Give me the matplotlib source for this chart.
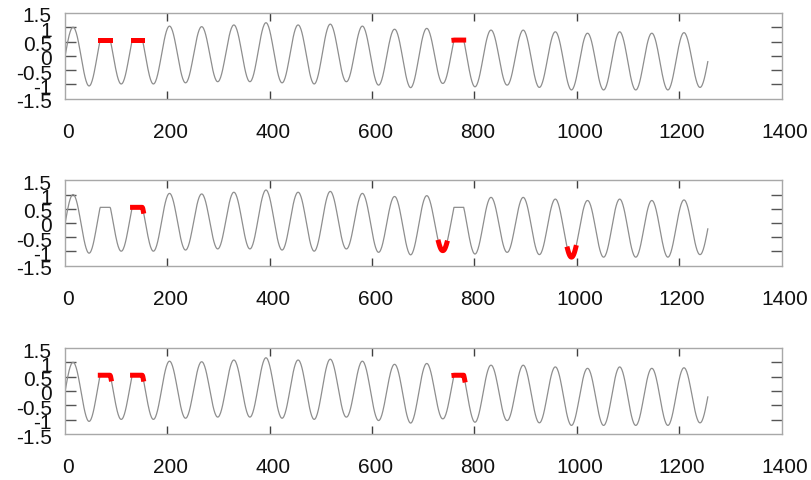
import numpy as np
import matplotlib
matplotlib.use("Agg")
import matplotlib.pyplot as plt
from matplotlib.transforms import ScaledTranslation

# ---------------- data ----------------
x_end = 1256                 # last sample of the signal
wave_period = 62.83          # distance between successive peaks
first_peak_x = 15.7          # position of the first peak

peak_values = [1.00, 1.02, 1.02, 1.04, 1.02, 1.08, 1.16, 1.08, 1.11, 1.04,
               0.93, 0.96, 0.98, 0.90, 0.90, 0.84, 0.79, 0.84, 0.79, 0.81]
trough_values = [-1.06, -0.99, -0.99, -0.95, -0.91, -0.91, -0.95, -0.99, -0.91, -1.03,
                 -1.12, -0.97, -1.09, -1.03, -1.11, -1.20, -1.20, -1.20, -1.20, -1.11]

clip_level = 0.55            # flattened peaks sit at this level
clipped_peaks = [1, 2, 12]   # indices of the flattened peaks

# red highlighted x-ranges, one list per panel (top, middle, bottom)
highlight_ranges = [
    [(69, 88), (132, 151), (760, 779)],
    [(132, 153), (730, 746), (982, 998)],
    [(69, 90), (132, 153), (760, 781)],
]

x_ticks = [0, 200, 400, 600, 800, 1000, 1200, 1400]
y_ticks = [-1.5, -1, -0.5, 0, 0.5, 1, 1.5]
y_tick_labels = ["-1.5", "-1", "-0.5", "0", "0.5", "1", "1.5"]

# ---------------- build the signal ----------------
n_peaks = len(peak_values)
peak_x = first_peak_x + wave_period * np.arange(n_peaks)
trough_x = peak_x + wave_period / 2
x = np.arange(0, x_end + 1, 1.0)
upper = np.interp(x, peak_x, peak_values)
lower = np.interp(x, trough_x, trough_values)
phase = np.cos(2 * np.pi * (x - first_peak_x) / wave_period)
y = (upper + lower) / 2 + (upper - lower) / 2 * phase
for k in clipped_peaks:
    near = np.abs(x - peak_x[k]) < wave_period / 2
    y[near] = np.minimum(y[near], clip_level)

# ---------------- figure ----------------
W, H = 811, 480
fig = plt.figure(figsize=(W / 100, H / 100), dpi=100)
plt.rcParams["font.family"] = ["Liberation Sans", "DejaVu Sans"]

left = 65 / W
width = (781.5 - 65) / W
panels_px = [(13, 98.5), (180.3, 265.7), (348, 434)]

spine_col = "#a8a8a8"
for i, (top_px, bot_px) in enumerate(panels_px):
    ax = fig.add_axes([left, 1 - bot_px / H, width, (bot_px - top_px) / H])
    ax.plot(x, y, color="#8e8e8e", lw=0.9, zorder=2)
    for (a, b) in highlight_ranges[i]:
        m = (x >= a) & (x <= b)
        ax.plot(x[m], y[m], color="#ff0000", lw=3.6, solid_capstyle="projecting",
                solid_joinstyle="round", zorder=3)
    ax.set_xlim(0, 1400)
    ax.set_ylim(-1.5, 1.5)
    ax.set_xticks(x_ticks)
    ax.set_xticklabels([str(t) for t in x_ticks])
    ax.set_yticks(y_ticks)
    ax.set_yticklabels(y_tick_labels)
    for s in ax.spines.values():
        s.set_color(spine_col)
        s.set_linewidth(1.0)
    ax.tick_params(axis="x", direction="in", top=True, bottom=True, length=5.5,
                   width=1.0, color="#404040", labelsize=15, pad=17.5, labelcolor="#111111")
    ax.tick_params(axis="y", direction="in", left=True, right=True, length=8,
                   width=1.0, color="#555555", labelsize=15, pad=9.5, labelcolor="#111111")
    for t in ax.yaxis.get_major_ticks():
        if abs(t.get_loc()) == 1.5:
            t.tick1line.set_visible(False)
            t.tick2line.set_visible(False)
    for t in ax.xaxis.get_major_ticks():
        if t.get_loc() in (0, 1400):
            t.tick1line.set_visible(False)
            t.tick2line.set_visible(False)
    dy = ScaledTranslation(0, -2 / 100, fig.dpi_scale_trans)
    for lab in ax.get_yticklabels():
        lab.set_transform(lab.get_transform() + dy)
    dx = ScaledTranslation(3 / 100, 0, fig.dpi_scale_trans)
    for lab in ax.get_xticklabels():
        lab.set_transform(lab.get_transform() + dx)

fig.savefig("out.png", dpi=100)
